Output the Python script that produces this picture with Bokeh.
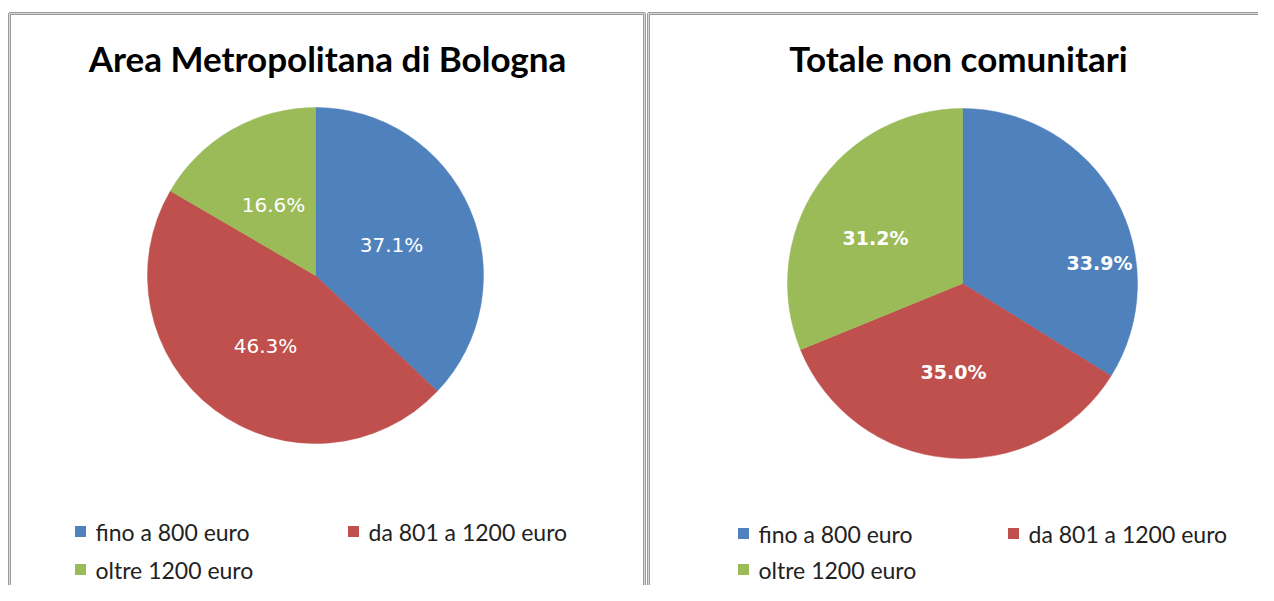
import math
from bokeh.plotting import figure
from bokeh.models import Range1d, ColumnDataSource
from bokeh.core.properties import value
from bokeh.embed import file_html
from bokeh.resources import INLINE

# ---- data ----
categories = ["fino a 800 euro", "da 801 a 1200 euro", "oltre 1200 euro"]
colors = ["#4F81BD", "#C0504D", "#9BBB59"]
titles = ["Area Metropolitana di Bologna", "Totale non comunitari"]
bologna = [37.1, 46.3, 16.6]
non_comunitari = [33.9, 35.0, 31.2]
series = [bologna, non_comunitari]

W, H = 1258, 585
p = figure(width=W, height=H, output_backend="svg", toolbar_location=None,
           x_range=Range1d(0, W), y_range=Range1d(0, H),
           min_border=0, min_border_left=0, min_border_right=0,
           min_border_top=0, min_border_bottom=0)
p.axis.visible = False
p.grid.visible = False
p.outline_line_color = None
p.background_fill_color = "white"
p.border_fill_color = "white"


def sy(y):
    return H - y


# panel layout (screen coords)
panels = [
    dict(left=9, right=644, cx=315, cy=275, r=168, tx=327, ty=57,
         legx=[74, 347, 74], legy=[531, 531, 569],
         lab=[(391, 244), (265, 345), (273, 204)], bold=False, lsize="20px"),
    dict(left=648, right=1290, cx=962, cy=283, r=175, tx=958, ty=57,
         legx=[737, 1007, 737], legy=[533, 533, 569],
         lab=[(1099, 262), (953, 371), (875, 237)], bold=True, lsize="19px"),
]

for pan, vals, title in zip(panels, series, titles):
    # panel border
    p.quad(left=pan["left"], right=pan["right"], top=sy(13), bottom=sy(640),
           fill_color=None, line_color="#9a9a9a", line_width=3)
    p.quad(left=pan["left"], right=pan["right"], top=sy(13), bottom=sy(640),
           fill_color=None, line_color="#d8d8d8", line_width=1)

    total = sum(vals)
    starts, ends = [], []
    cum = 0.0
    for v in vals:
        a0 = math.pi / 2 - 2 * math.pi * cum / total
        cum += v
        a1 = math.pi / 2 - 2 * math.pi * cum / total
        starts.append(a1)
        ends.append(a0)
    src = ColumnDataSource(dict(start=starts, end=ends, color=colors))
    p.wedge(x=pan["cx"], y=sy(pan["cy"]), radius=pan["r"],
            start_angle="start", end_angle="end", direction="anticlock",
            fill_color="color", line_color="color", line_width=0.5, source=src)

    # percentage labels
    lx = [c[0] for c in pan["lab"]]
    ly = [sy(c[1]) for c in pan["lab"]]
    ltxt = ["%.1f%%" % v for v in vals]
    p.text(x=lx, y=ly, text=ltxt, text_color="white",
           text_font=value("DejaVu Sans"), text_font_size=pan["lsize"],
           text_font_style="bold" if pan["bold"] else "normal",
           text_align="center", text_baseline="middle")

    # title
    p.text(x=[pan["tx"]], y=[sy(pan["ty"])], text=[title], text_color="black",
           text_font=value("Lato"), text_font_size="35px", text_font_style="bold",
           text_align="center", text_baseline="middle")

    # legend
    p.rect(x=[x + 6 for x in pan["legx"]], y=[sy(y) for y in pan["legy"]],
           width=11, height=11, fill_color=colors, line_color=None)
    p.text(x=[x + 21 for x in pan["legx"]], y=[sy(y) for y in pan["legy"]],
           text=categories, text_color="#222222",
           text_font=value("Lato"), text_font_size="23px",
           text_align="left", text_baseline="middle")

open("out.html", "w").write(file_html(p, INLINE))
